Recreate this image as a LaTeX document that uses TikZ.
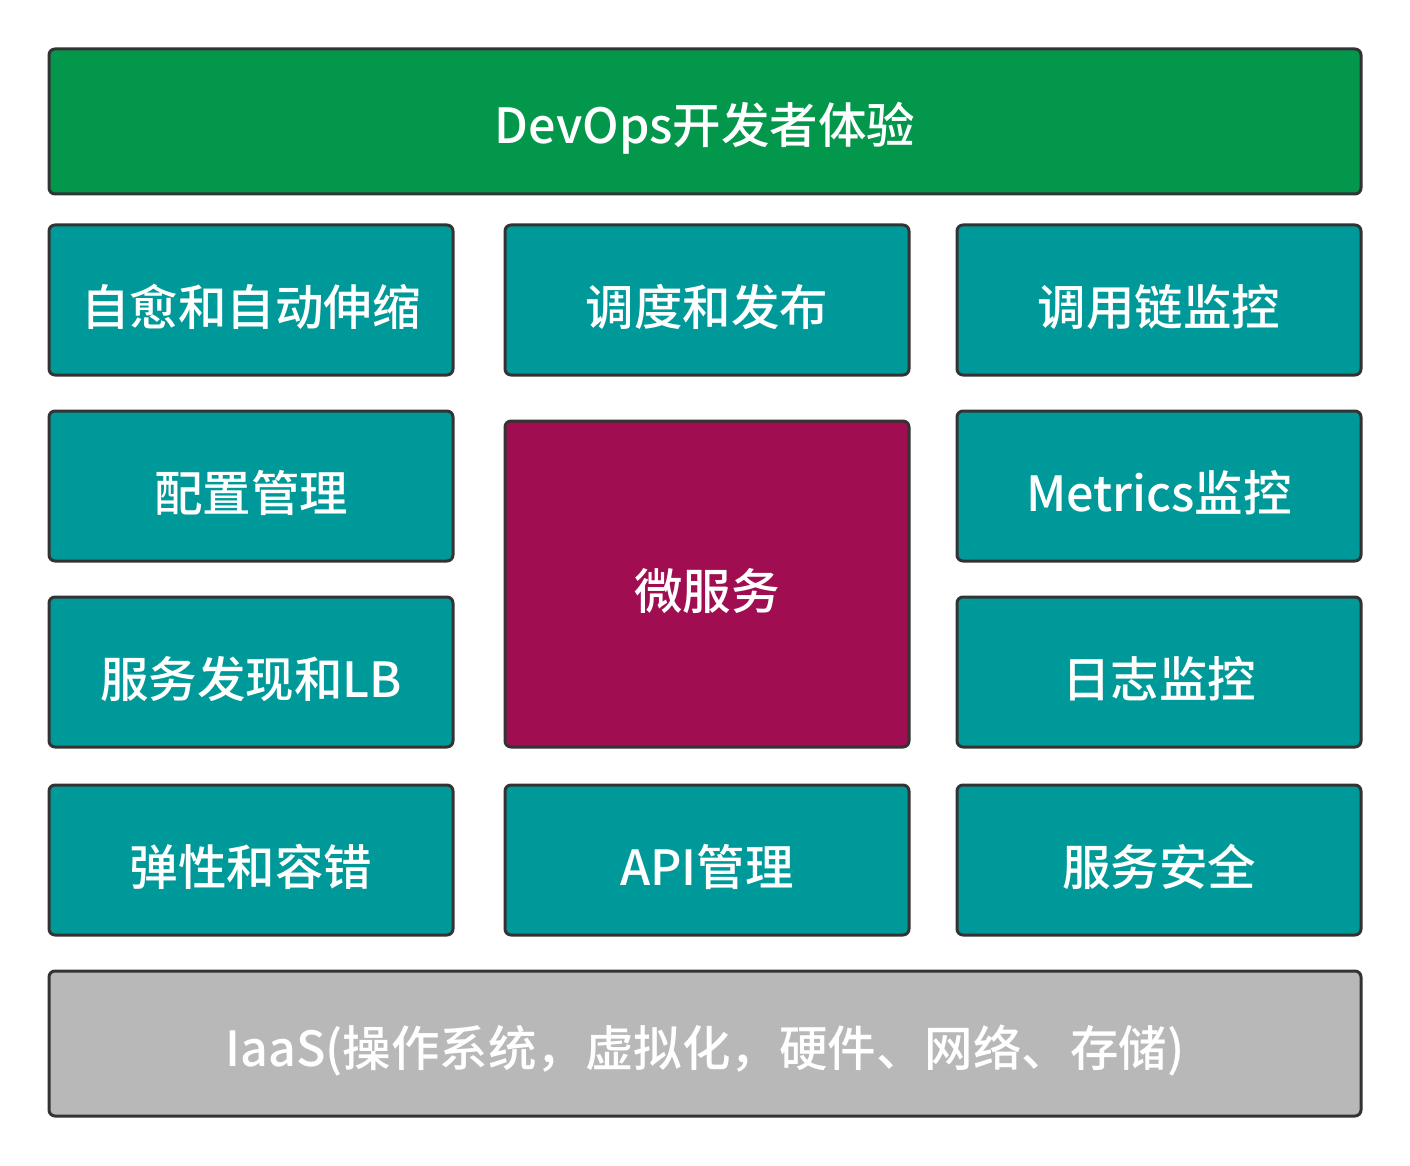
\documentclass[tikz,border=0pt]{standalone}
\usepackage{fontspec}
\setmainfont{Noto Sans CJK SC}
\newfontfamily\medfont{Noto Sans CJK SC Medium}
\newcommand{\lbl}[1]{\raisebox{-7pt}[\height][\depth]{\medfont #1}}
\begin{document}
\begin{tikzpicture}[x=1pt,y=-1pt,
  box/.style={draw=black!80, line width=3pt, rounded corners=6pt, text=white,
    font=\fontsize{48.5}{52}\selectfont, inner sep=0pt},
  green/.style={box, fill={rgb,255:red,3;green,151;blue,75}},
  teal/.style={box, fill={rgb,255:red,0;green,153;blue,153}},
  maroon/.style={box, fill={rgb,255:red,160;green,13;blue,81}},
  gray/.style={box, fill={rgb,255:red,184;green,184;blue,184}}]
\useasboundingbox (0,0) rectangle (1410,1166);
% top
\node[green, minimum width=1312pt, minimum height=145pt] (devops) at (705,121.5) {\lbl{DevOps开发者体验}};
% row 1
\node[teal, minimum width=404pt, minimum height=150pt] (heal) at (251,300) {\lbl{自愈和自动伸缩}};
\node[teal, minimum width=404pt, minimum height=150pt] (sched) at (707,300) {\lbl{调度和发布}};
\node[teal, minimum width=404pt, minimum height=150pt] (trace) at (1159,300) {\lbl{调用链监控}};
% row 2
\node[teal, minimum width=404pt, minimum height=150pt] (config) at (251,486) {\lbl{配置管理}};
\node[teal, minimum width=404pt, minimum height=150pt] (metrics) at (1159,486) {\lbl{Metrics监控}};
% micro
\node[maroon, minimum width=404pt, minimum height=326pt] (micro) at (707,584) {\lbl{微服务}};
% row 3
\node[teal, minimum width=404pt, minimum height=150pt] (disc) at (251,672) {\lbl{服务发现和LB}};
\node[teal, minimum width=404pt, minimum height=150pt] (logs) at (1159,672) {\lbl{日志监控}};
% row 4
\node[teal, minimum width=404pt, minimum height=150pt] (resil) at (251,860) {\lbl{弹性和容错}};
\node[teal, minimum width=404pt, minimum height=150pt] (api) at (707,860) {\lbl{API管理}};
\node[teal, minimum width=404pt, minimum height=150pt] (sec) at (1159,860) {\lbl{服务安全}};
% bottom
\node[gray, minimum width=1312pt, minimum height=145pt] (iaas) at (705,1043.5) {\lbl{IaaS(操作系统，虚拟化，硬件、网络、存储)}};
\end{tikzpicture}
\end{document}
